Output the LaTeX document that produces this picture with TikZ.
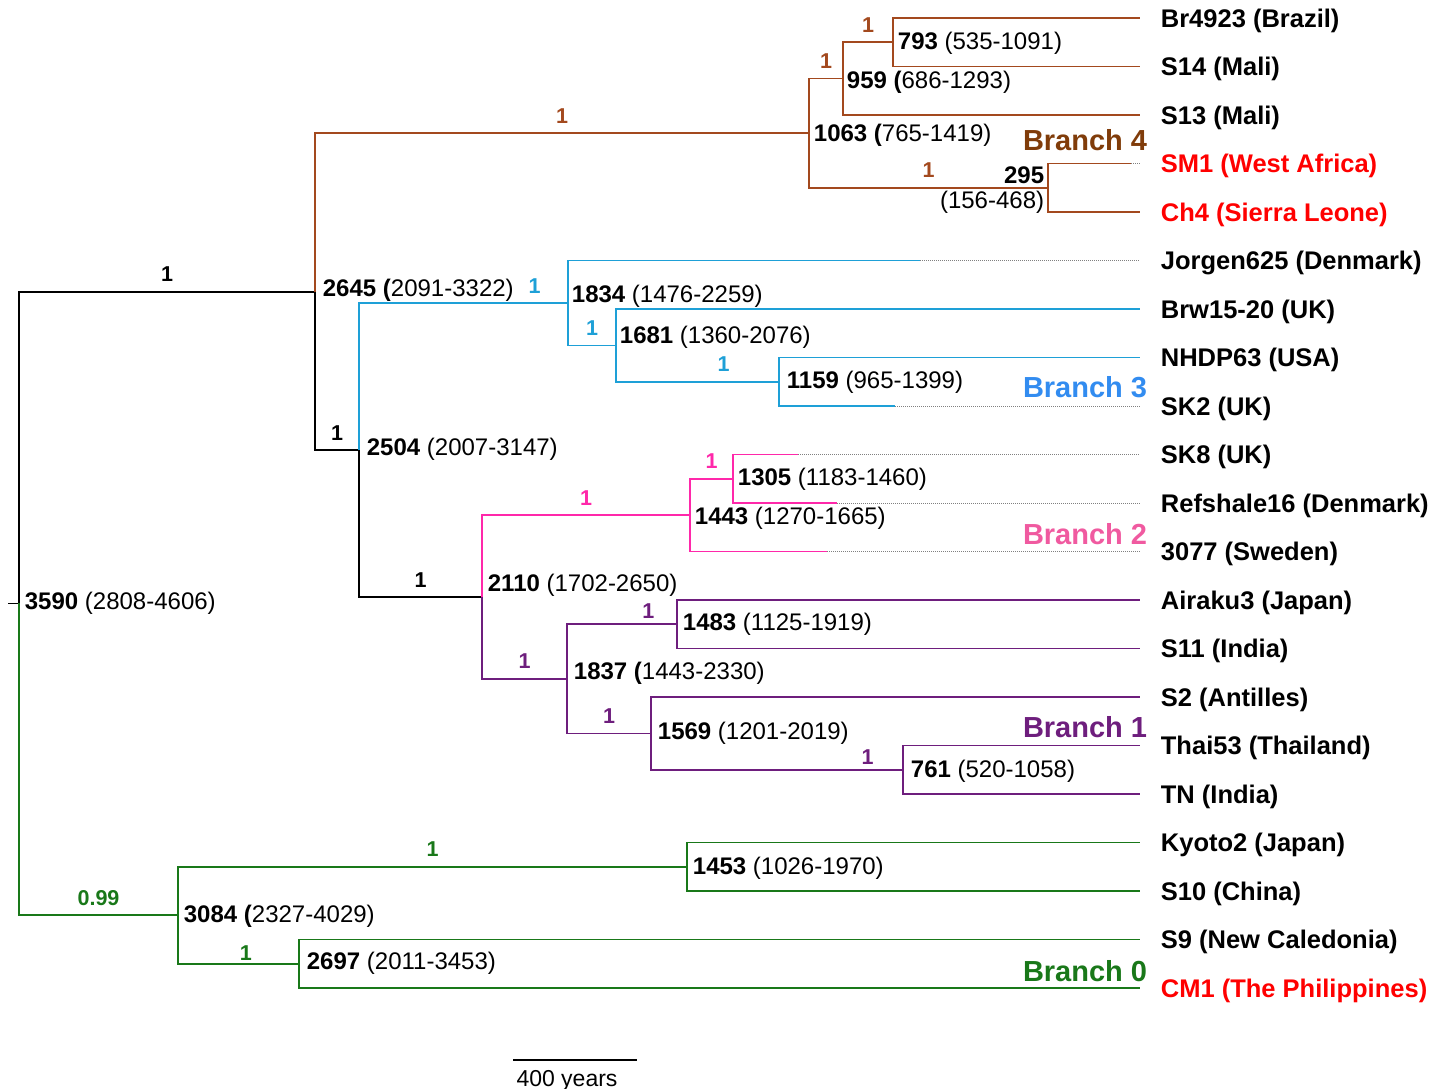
\documentclass[tikz,border=0pt]{standalone}
\usepackage{fontspec}
\setmainfont{Liberation Sans}
\usetikzlibrary{positioning}
\definecolor{brn}{RGB}{163,73,30}
\definecolor{brntxt}{RGB}{128,60,10}
\definecolor{blu}{RGB}{30,160,215}
\definecolor{blutxt}{RGB}{50,140,240}
\definecolor{pnk}{RGB}{255,40,170}
\definecolor{pnktxt}{RGB}{240,90,160}
\definecolor{prp}{RGB}{110,30,125}
\definecolor{grn}{RGB}{25,120,25}
\definecolor{rd}{RGB}{255,0,0}
\begin{document}
\begin{tikzpicture}[
                    x=1pt, y=-1pt,
                    node distance=4pt,
                    >=latex,
                    line width=1.8pt,
                    leaf/.style={anchor=west, inner sep=0pt, yshift=-2.5pt, font=\fontsize{25.5}{30}\selectfont\bfseries},
                    age/.style={anchor=west, inner sep=0pt, font=\fontsize{24}{25}\selectfont},
                    sup/.style={above=9pt, inner sep=0pt, pos=.75, font=\fontsize{21.5}{24}\selectfont\bfseries},
                    brlabel/.style={anchor=east, inner sep=0pt, yshift=-2pt, font=\fontsize{29}{34}\selectfont\bfseries},
                    dotline/.style={line width=1pt, densely dotted, gray}
                    ]

                    \useasboundingbox (0,0) rectangle (1446,1089);

                    \node [coordinate] (rt) at (8,603.4) {};
                    \node [coordinate] (n3590) at (19,603.4) {};
                    \node [coordinate] (n2645) at (315,291.6) {};
                    \node [coordinate] (n1063) at (809,133.2) {};
                    \node [coordinate] (n959) at (843,78.6) {};
                    \node [coordinate] (n793) at (893,42.25) {};
                    \node [coordinate] (n295) at (1048,187.75) {};
                    \node [coordinate] (n2504) at (359,450) {};
                    \node [coordinate] (n1834) at (568,302.9) {};
                    \node [coordinate] (n1681) at (616,345.4) {};
                    \node [coordinate] (n1159) at (779,381.75) {};
                    \node [coordinate] (n2110) at (482,597) {};
                    \node [coordinate] (n1443) at (690,515.1) {};
                    \node [coordinate] (n1305) at (733,478.75) {};
                    \node [coordinate] (n1837) at (567,678.8) {};
                    \node [coordinate] (n1483) at (677,624.25) {};
                    \node [coordinate] (n1569) at (651,733.4) {};
                    \node [coordinate] (n761) at (903,769.75) {};
                    \node [coordinate] (n3084) at (178,915.25) {};
                    \node [coordinate] (n1453) at (687,866.75) {};
                    \node [coordinate] (n2697) at (299,963.75) {};

                    \node [leaf] (lBr) at (1160,18) {Br4923 (Brazil)};
                    \node [leaf] (lS14) at (1160,66.5) {S14 (Mali)};
                    \node [leaf] (lS13) at (1160,115) {S13 (Mali)};
                    \node [leaf, text=rd] (lSM1) at (1160,163.5) {SM1 (West Africa)};
                    \node [leaf, text=rd] (lCh4) at (1160,212) {Ch4 (Sierra Leone)};
                    \node [leaf] (lJor) at (1160,260.5) {Jorgen625 (Denmark)};
                    \node [leaf] (lBrw) at (1160,309) {Brw15-20 (UK)};
                    \node [leaf] (lNH) at (1160,357.5) {NHDP63 (USA)};
                    \node [leaf] (lSK2) at (1160,406) {SK2 (UK)};
                    \node [leaf] (lSK8) at (1160,454.5) {SK8 (UK)};
                    \node [leaf] (lRef) at (1160,503) {Refshale16 (Denmark)};
                    \node [leaf] (l3077) at (1160,551.5) {3077 (Sweden)};
                    \node [leaf] (lAir) at (1160,600) {Airaku3 (Japan)};
                    \node [leaf] (lS11) at (1160,648.5) {S11 (India)};
                    \node [leaf] (lS2) at (1160,697) {S2 (Antilles)};
                    \node [leaf] (lTh) at (1160,745.5) {Thai53 (Thailand)};
                    \node [leaf] (lTN) at (1160,794) {TN (India)};
                    \node [leaf] (lKy) at (1160,842.5) {Kyoto2 (Japan)};
                    \node [leaf] (lS10) at (1160,891) {S10 (China)};
                    \node [leaf] (lS9) at (1160,939.5) {S9 (New Caledonia)};
                    \node [leaf, text=rd] (lCM1) at (1160,988) {CM1 (The Philippines)};

                    \node [coordinate] (tBr) at (1140,18) {};
                    \node [coordinate] (tS14) at (1140,66.5) {};
                    \node [coordinate] (tS13) at (1140,115) {};
                    \node [coordinate] (jSM1) at (1131,163.5) {};
                    \node [coordinate] (tSM1) at (1140,163.5) {};
                    \node [coordinate] (tCh4) at (1140,212) {};
                    \node [coordinate] (jJor) at (920,260.5) {};
                    \node [coordinate] (tJor) at (1140,260.5) {};
                    \node [coordinate] (tBrw) at (1140,309) {};
                    \node [coordinate] (tNH) at (1140,357.5) {};
                    \node [coordinate] (jSK2) at (895,406) {};
                    \node [coordinate] (tSK2) at (1140,406) {};
                    \node [coordinate] (jSK8) at (798,454.5) {};
                    \node [coordinate] (tSK8) at (1140,454.5) {};
                    \node [coordinate] (jRef) at (837,503) {};
                    \node [coordinate] (tRef) at (1140,503) {};
                    \node [coordinate] (j3077) at (827,551.5) {};
                    \node [coordinate] (t3077) at (1140,551.5) {};
                    \node [coordinate] (tAir) at (1140,600) {};
                    \node [coordinate] (tS11) at (1140,648.5) {};
                    \node [coordinate] (tS2) at (1140,697) {};
                    \node [coordinate] (tTh) at (1140,745.5) {};
                    \node [coordinate] (tTN) at (1140,794) {};
                    \node [coordinate] (tKy) at (1140,842.5) {};
                    \node [coordinate] (tS10) at (1140,891) {};
                    \node [coordinate] (tS9) at (1140,939.5) {};
                    \node [coordinate] (tCM1) at (1140,988) {};

                    \draw (rt) -- (n3590);
                    \draw (n3590) |- node[sup]{1} (n2645);
                    \draw[grn] (n3590) |- node[sup]{0.99} (n3084);

                    \draw[brn] (n2645) |- node[sup]{1} (n1063);
                    \draw (n2645) |- node[sup]{1} (n2504);
                    \draw[brn] (n1063) |- node[sup]{1} (n959);
                    \draw[brn] (n1063) |- node[sup]{1} (n295);
                    \draw[brn] (n959) |- node[sup]{1} (n793);
                    \draw[brn] (n959) |- (tS13);
                    \draw[brn] (n793) |- (tBr);
                    \draw[brn] (n793) |- (tS14);
                    \draw[brn] (n295) |- (jSM1);
                    \draw[dotline] (jSM1) -- (tSM1);
                    \draw[brn] (n295) |- (tCh4);

                    \draw[blu] (n2504) |- node[sup, pos=.92]{1} (n1834);
                    \draw (n2504) |- node[sup]{1} (n2110);
                    \draw[blu] (n1834) |- (jJor);
                    \draw[dotline] (jJor) -- (tJor);
                    \draw[blu] (n1834) |- node[sup]{1} (n1681);
                    \draw[blu] (n1681) |- (tBrw);
                    \draw[blu] (n1681) |- node[sup, pos=.83]{1} (n1159);
                    \draw[blu] (n1159) |- (tNH);
                    \draw[blu] (n1159) |- (jSK2);
                    \draw[dotline] (jSK2) -- (tSK2);

                    \draw[pnk] (n2110) |- node[sup]{1} (n1443);
                    \draw[prp] (n2110) |- node[sup]{1} (n1837);
                    \draw[pnk] (n1443) |- node[sup]{1} (n1305);
                    \draw[pnk] (n1443) |- (j3077);
                    \draw[dotline] (j3077) -- (t3077);
                    \draw[pnk] (n1305) |- (jSK8);
                    \draw[dotline] (jSK8) -- (tSK8);
                    \draw[pnk] (n1305) |- (jRef);
                    \draw[dotline] (jRef) -- (tRef);

                    \draw[prp] (n1837) |- node[sup, pos=.87, above=5pt]{1} (n1483);
                    \draw[prp] (n1837) |- node[sup]{1} (n1569);
                    \draw[prp] (n1483) |- (tAir);
                    \draw[prp] (n1483) |- (tS11);
                    \draw[prp] (n1569) |- (tS2);
                    \draw[prp] (n1569) |- node[sup, pos=.93, above=4pt]{1} (n761);
                    \draw[prp] (n761) |- (tTh);
                    \draw[prp] (n761) |- (tTN);

                    \draw[grn] (n3084) |- node[sup]{1} (n1453);
                    \draw[grn] (n3084) |- node[sup, pos=.78, above=2pt]{1} (n2697);
                    \draw[grn] (n1453) |- (tKy);
                    \draw[grn] (n1453) |- (tS10);
                    \draw[grn] (n2697) |- (tS9);
                    \draw[grn] (n2697) |- (tCM1);

                    \node [age, right=5pt of n3590, yshift=0pt] (a3590) {\textbf{3590} (2808-4606)};
                    \node [age, right=7pt of n2645, yshift=1pt] (a2645) {\textbf{2645 (}2091-3322)};
                    \node [age, right=4pt of n1063, yshift=-2pt] (a1063) {\textbf{1063 (}765-1419)};
                    \node [age, right=3pt of n959, yshift=-4pt] (a959) {\textbf{959 (}686-1293)};
                    \node [age, right=4pt of n793, yshift=-1pt] (a793) {\textbf{793} (535-1091)};
                    \node [age, left=3pt of n295, align=right, yshift=-2pt] (a295) {\textbf{295}\\(156-468)};
                    \node [age, right=7pt of n2504, yshift=1pt] (a2504) {\textbf{2504} (2007-3147)};
                    \node [age, right=3pt of n1834, yshift=7pt] (a1834) {\textbf{1834} (1476-2259)};
                    \node [age, right=3pt of n1681, yshift=8pt] (a1681) {\textbf{1681} (1360-2076)};
                    \node [age, right=7pt of n1159, yshift=-1pt] (a1159) {\textbf{1159} (965-1399)};
                    \node [age, right=5pt of n2110, yshift=12pt] (a2110) {\textbf{2110} (1702-2650)};
                    \node [age, right=4pt of n1443, yshift=-3pt] (a1443) {\textbf{1443} (1270-1665)};
                    \node [age, right=4pt of n1305, yshift=-1pt] (a1305) {\textbf{1305} (1183-1460)};
                    \node [age, right=6pt of n1837, yshift=6pt] (a1837) {\textbf{1837 (}1443-2330)};
                    \node [age, right=5pt of n1483, yshift=0pt] (a1483) {\textbf{1483} (1125-1919)};
                    \node [age, right=6pt of n1569, yshift=0pt] (a1569) {\textbf{1569} (1201-2019)};
                    \node [age, right=7pt of n761, yshift=-2pt] (a761) {\textbf{761} (520-1058)};
                    \node [age, right=5pt of n3084, yshift=-1pt] (a3084) {\textbf{3084 (}2327-4029)};
                    \node [age, right=5pt of n1453, yshift=-2pt] (a1453) {\textbf{1453} (1026-1970)};
                    \node [age, right=7pt of n2697, yshift=0pt] (a2697) {\textbf{2697} (2011-3453)};

                    \node [brlabel, text=brntxt] (b4) at (1148,138) {Branch 4};
                    \node [brlabel, text=blutxt] (b3) at (1148,385) {Branch 3};
                    \node [brlabel, text=pnktxt] (b2) at (1148,532) {Branch 2};
                    \node [brlabel, text=prp] (b1) at (1148,725) {Branch 1};
                    \node [brlabel, text=grn] (b0) at (1148,969) {Branch 0};

                    \node [coordinate] (sbl) at (513,1060) {};
                    \node [coordinate] (sbr) at (637,1060) {};
                    \draw[line width=2pt] (sbl) -- (sbr);
                    \node [inner sep=0pt, font=\fontsize{23}{25}\selectfont] (yrs) at (567,1081) {400 years};

                \end{tikzpicture}
\end{document}
